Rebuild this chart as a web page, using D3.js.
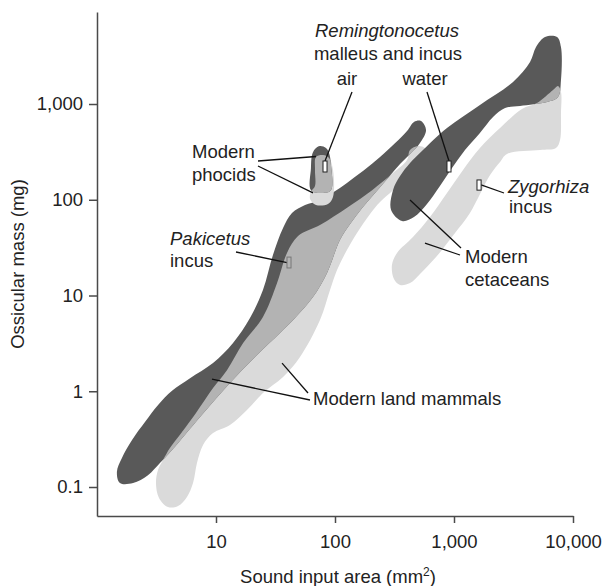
<!DOCTYPE html>
<html>
<head>
<meta charset="utf-8">
<script src="https://cdn.jsdelivr.net/npm/d3@7"></script>
<style>
  body { margin: 0; background: #fff; }
  svg { display: block; font-family: "Liberation Sans", Arial, Helvetica, sans-serif; }
  .axis path, .axis line { stroke: #4a4a4a; stroke-width: 1.5; }
  .axis text { font-size: 18.5px; fill: #222; font-family: "Liberation Sans", Arial, sans-serif; }
  .label { font-size: 18.5px; fill: #222; }
  .leader { stroke: #111; stroke-width: 1.3; }
</style>
</head>
<body>
<svg id="chart"></svg>
<script>
// Outlines of the shaded regions: [sound input area (mm2), ossicular mass (mg)]
const darkLand = [
  [1.56, 0.110], [1.47, 0.144], [1.62, 0.201], [1.97, 0.310], [2.53, 0.477],
  [3.26, 0.718], [4.27, 1.01], [6.05, 1.37], [9.44, 1.97], [13.9, 3.19],
  [19.3, 5.82], [24.8, 11.4], [30.1, 26.5], [36.6, 50.7], [43.5, 72.8],
  [56.0, 88.2], [74.8, 99.4], [126, 150], [239, 279], [403, 522],
  [461, 649], [528, 664], [582, 535],
  [518, 392], [435, 308], [352, 236], [279, 169], [217, 118], [169, 82.0],
  [134, 55.8], [110, 38.0], [85.7, 17.2], [65.3, 9.64], [46.1, 5.82],
  [34.5, 4.06], [22.1, 2.39], [13.1, 1.22], [7.34, 0.538], [4.27, 0.243],
  [3.38, 0.178], [2.68, 0.133], [2.01, 0.110]
];

const lightLand = [
  [427, 331], [498, 364], [570, 347], [605, 293], [570, 231], [489, 205],
  [372, 161], [307, 126], [239, 94.8], [197, 71.0], [153, 45.0], [126, 29.9],
  [104, 18.5], [90.8, 11.4], [74.8, 5.55], [50.8, 2.28], [36.6, 1.41],
  [24.8, 0.96], [18.2, 0.637], [13.1, 0.445], [9.44, 0.366], [7.78, 0.275],
  [6.92, 0.178], [6.41, 0.110], [5.70, 0.0787], [4.80, 0.0634], [3.95, 0.0618],
  [3.32, 0.0768], [3.13, 0.110], [3.26, 0.151], [3.59, 0.191],
  [4.10, 0.255], [5.18, 0.375], [6.79, 0.593], [9.44, 1.08], [12.4, 1.67],
  [16.9, 3.19], [24.8, 5.96], [32.6, 13.5], [39.5, 27.8], [48.9, 41.8],
  [74.8, 54.5], [129, 84.0], [205, 126], [307, 190], [403, 260]
];

const darkPhocid = [
  [62.8, 126], [62.8, 215], [64.1, 293], [67.9, 339], [74.8, 364],
  [84.0, 347], [89.1, 308], [92.5, 231], [92.5, 126], [77.8, 118]
];

const lightPhocid = [
  [69.2, 279], [79.3, 293], [89.1, 273], [96.2, 205], [96.2, 107],
  [87.3, 90.3], [69.2, 88.2], [61.7, 102], [62.8, 121], [67.9, 139], [67.9, 205]
];

const darkCetacean = [
  [296, 78.2], [307, 126], [352, 177], [427, 242], [538, 323], [873, 561],
  [1652, 977], [3133, 1699], [4355, 2746], [4890, 3937], [5818, 5012],
  [7345, 5012], [7925, 3937], [7925, 1782], [7482, 1183], [6051, 1049],
  [3589, 953], [2685, 908], [2128, 732], [1652, 498], [1237, 331],
  [962, 215], [762, 139], [593, 90.3], [461, 66.1], [366, 60.0]
];

const lightCetacean = [
  [6792, 1400], [7482, 1542], [7925, 1334], [7925, 805], [7780, 421],
  [7194, 347], [5282, 331], [2789, 301], [2437, 248], [2009, 181],
  [1362, 72.8], [1020, 45.0], [719, 25.9], [518, 16.8], [427, 13.5],
  [352, 12.9], [313, 14.9], [301, 20.8], [332, 27.8], [452, 40.8],
  [628, 66.1], [873, 118], [1191, 205], [1652, 347], [2437, 561],
  [3727, 887], [4982, 1024]
];

// Fossil specimens: [area min, area max], [mass min, mass max]
const specimenNames = ["air", "water", "zygorhiza", "pakicetus"];
const specimenArea = [[79.3, 85.7], [873, 944], [1560, 1690], [39.5, 42.7]];
const specimenMass = [[195, 254], [195, 254], [126, 161], [19.4, 25.2]];

// Axis ticks
const xTicks = [10, 100, 1000, 10000];
const yTicks = [0.1, 1, 10, 100, 1000];

const width = 604;
const height = 586;

const svg = d3.select("#chart").attr("width", width).attr("height", height);

const x = d3.scaleLog().domain([1, 10000]).range([97, 573]);
const y = d3.scaleLog().domain([0.0498, 9140]).range([516, 12]);

const colors = { dark: "#595959", mid: "#b3b3b3", light: "#dadada" };

const outline = d3.line()
  .x(d => x(d[0]))
  .y(d => y(d[1]))
  .curve(d3.curveCatmullRomClosed.alpha(0.5));

// Each group: light region, dark region, and their overlap in mid grey
const groups = [
  { id: "land", dark: darkLand, light: lightLand },
  { id: "phocid", dark: darkPhocid, light: lightPhocid },
  { id: "cetacean", dark: darkCetacean, light: lightCetacean }
];

const defs = svg.append("defs");
const regions = svg.append("g").attr("class", "regions");

groups.forEach(g => {
  defs.append("clipPath")
    .attr("id", "clip-" + g.id)
    .append("path")
    .attr("d", outline(g.dark));

  regions.append("path")
    .attr("d", outline(g.light))
    .attr("fill", colors.light);

  regions.append("path")
    .attr("d", outline(g.dark))
    .attr("fill", colors.dark);

  regions.append("path")
    .attr("d", outline(g.light))
    .attr("fill", colors.mid)
    .attr("clip-path", `url(#clip-${g.id})`);
});

// Axes
const xAxis = d3.axisBottom(x)
  .tickValues(xTicks)
  .tickFormat(d3.format(","))
  .tickSize(7)
  .tickSizeOuter(0)
  .tickPadding(12);

const yAxis = d3.axisLeft(y)
  .tickValues(yTicks)
  .tickFormat(d3.format(","))
  .tickSize(8)
  .tickSizeOuter(0)
  .tickPadding(6);

svg.append("g")
  .attr("class", "axis x-axis")
  .attr("transform", `translate(0,${y.range()[0]})`)
  .call(xAxis);

svg.append("g")
  .attr("class", "axis y-axis")
  .attr("transform", `translate(${x.range()[0]},0)`)
  .call(yAxis);

svg.selectAll(".axis .domain").attr("stroke", "#4a4a4a");

// Axis titles
svg.append("text")
  .attr("class", "label")
  .attr("transform", "translate(24,264) rotate(-90)")
  .attr("text-anchor", "middle")
  .text("Ossicular mass (mg)");

const xTitle = svg.append("text")
  .attr("class", "label")
  .attr("x", 338)
  .attr("y", 583)
  .attr("text-anchor", "middle");
xTitle.append("tspan").text("Sound input area (mm");
xTitle.append("tspan").attr("dy", -7).attr("font-size", "12px").text("2");
xTitle.append("tspan").attr("dy", 7).text(")");

// Leader lines: start in pixels next to the label, end on a data location
const leaders = [
  { from: [352, 92], to: [82.4, 254] },
  { from: [427, 92], to: [908, 254] },
  { from: [258, 161], to: [69.2, 283] },
  { from: [258, 166], to: [65.3, 118] },
  { from: [236, 252], to: [39.5, 22.1] },
  { from: [504, 193], to: [1690, 143] },
  { from: [461, 248], to: [427, 99.4] },
  { from: [460, 255], to: [570, 35.3] },
  { from: [310, 400], to: [9.25, 1.34] },
  { from: [308, 393], to: [35.9, 1.97] }
];

svg.append("g")
  .selectAll("line")
  .data(leaders)
  .join("line")
  .attr("class", "leader")
  .attr("x1", d => d.from[0])
  .attr("y1", d => d.from[1])
  .attr("x2", d => x(d.to[0]))
  .attr("y2", d => y(d.to[1]));

// Specimen boxes
svg.append("g")
  .selectAll("rect")
  .data(specimenNames)
  .join("rect")
  .attr("x", (d, i) => x(specimenArea[i][0]))
  .attr("y", (d, i) => y(specimenMass[i][1]))
  .attr("width", (d, i) => x(specimenArea[i][1]) - x(specimenArea[i][0]))
  .attr("height", (d, i) => y(specimenMass[i][0]) - y(specimenMass[i][1]))
  .attr("fill", d => d === "pakicetus" ? colors.mid : "#fff")
  .attr("stroke", d => d === "pakicetus" ? "#777" : "#222")
  .attr("stroke-width", 1);

// Annotation labels
const labels = [
  { t: "Remingtonocetus", x: 387, y: 37, anchor: "middle", italic: true },
  { t: "malleus and incus", x: 388, y: 60, anchor: "middle" },
  { t: "air", x: 347, y: 85, anchor: "middle" },
  { t: "water", x: 425, y: 85, anchor: "middle" },
  { t: "Modern", x: 192, y: 158 },
  { t: "phocids", x: 192, y: 181 },
  { t: "Pakicetus", x: 170, y: 245, italic: true },
  { t: "incus", x: 170, y: 267 },
  { t: "Zygorhiza", x: 508, y: 193, italic: true },
  { t: "incus", x: 509, y: 213 },
  { t: "Modern", x: 465, y: 263 },
  { t: "cetaceans", x: 465, y: 286 },
  { t: "Modern land mammals", x: 313, y: 405 }
];

svg.append("g")
  .selectAll("text")
  .data(labels)
  .join("text")
  .attr("class", "label")
  .attr("x", d => d.x)
  .attr("y", d => d.y)
  .attr("text-anchor", d => d.anchor || "start")
  .style("font-style", d => d.italic ? "italic" : "normal")
  .text(d => d.t);
</script>
</body>
</html>
